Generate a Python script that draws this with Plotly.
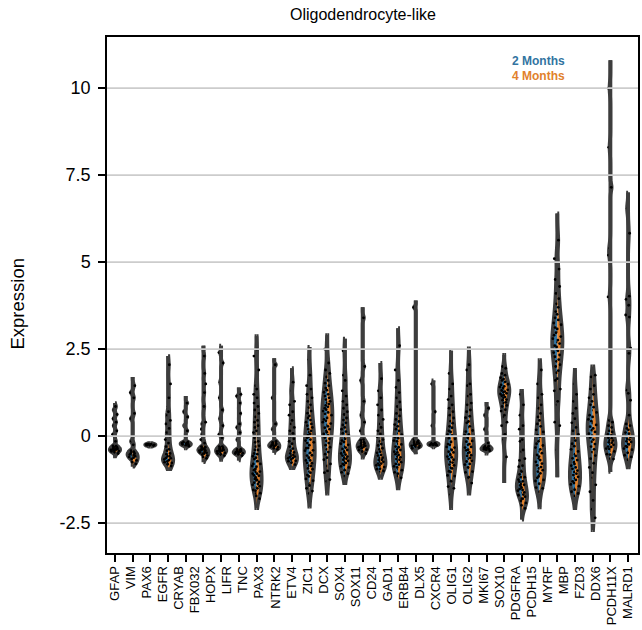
import numpy as np
import plotly.graph_objects as go

# ---------------- data ----------------
gene_labels = ["GFAP", "VIM", "PAX6", "EGFR", "CRYAB", "FBX032", "HOPX", "LIFR", "TNC",
               "PAX3", "NTRK2", "ETV4", "ZIC1", "DCX", "SOX4", "SOX11", "CD24", "GAD1",
               "ERBB4", "DLX5", "CXCR4", "OLIG1", "OLIG2", "MKI67", "SOX10", "PDGFRA",
               "PCDH15", "MYRF", "MBP", "FZD3", "DDX6", "PCDH11X", "MALRD1"]

y_tick_vals = [-2.5, 0, 2.5, 5, 7.5, 10]
y_tick_text = ["-2.5", "0", "2.5", "5", "7.5", "10"]

# expression samples per violin position, 2 Months
expr_2m = [
    [0.75, 0.5, 0.3, 0.05, -0.28, -0.31, -0.34, -0.36, -0.38, -0.4, -0.42, -0.44, -0.47],
    [1.25, 0.5, -0.15, -0.42, -0.46, -0.5, -0.53, -0.56, -0.6, -0.65],
    [-0.23, -0.24, -0.25, -0.26, -0.27],
    [0.6, 0.35, 0.1, -0.1, -0.3, -0.42, -0.52, -0.58, -0.63, -0.67, -0.71, -0.75, -0.8],
    [0.7, 0.3, -0.17, -0.2, -0.22, -0.24, -0.27],
    [0.35, 0.2, 0.05, -0.1, -0.3, -0.33, -0.36, -0.38, -0.4, -0.42, -0.44, -0.47, -0.5],
    [2.4, 1.55, 1.1, 0.5, 0.05, -0.3, -0.34, -0.37, -0.4, -0.42, -0.44, -0.47, -0.5, -0.54],
    [1.15, 0.25, -0.1, -0.38, -0.41, -0.44, -0.46, -0.48, -0.5, -0.54],
    [2.3, 1.45, 1.2, 0.95, 0.75, 0.55, 0.4, 0.25, 0.1, -0.05, -0.18, -0.3, -0.4, -0.5, -0.58,
     -0.66, -0.73, -0.8, -0.86, -0.92, -0.98, -1.03, -1.08, -1.13, -1.18, -1.23, -1.28, -1.34,
     -1.4, -1.47, -1.55, -1.65],
    [1.1, 0.2, -0.18, -0.21, -0.24, -0.26, -0.28, -0.3, -0.33],
    [1.3, 0.9, 0.6, 0.35, 0.15, 0.0, -0.15, -0.3, -0.42, -0.5, -0.56, -0.6, -0.64, -0.68, -0.72, -0.77],
    [2.2, 1.45, 1.2, 1.0, 0.82, 0.66, 0.52, 0.4, 0.3, 0.2, 0.11, 0.03, -0.05, -0.13, -0.2, -0.28,
     -0.35, -0.42, -0.49, -0.56, -0.63, -0.7, -0.77, -0.85, -0.93, -1.02, -1.12, -1.23, -1.36,
     -1.5, -1.65],
    [2.5, 1.9, 1.7, 1.52, 1.38, 1.26, 1.15, 1.05, 0.96, 0.88, 0.8, 0.72, 0.64, 0.56, 0.48, 0.4,
     0.32, 0.24, 0.15, 0.06, -0.04, -0.14, -0.26, -0.38, -0.52, -0.68, -0.86, -1.05, -1.3],
    [2.45, 1.75, 1.3, 1.0, 0.8, 0.62, 0.46, 0.32, 0.2, 0.08, -0.03, -0.13, -0.22, -0.3, -0.37,
     -0.44, -0.5, -0.56, -0.62, -0.68, -0.74, -0.8, -0.87, -0.95, -1.04, -1.15],
    [1.6, 0.6, 0.15, -0.12, -0.18, -0.22, -0.26, -0.29, -0.32, -0.36, -0.4, -0.45],
    [1.3, 0.9, 0.6, 0.35, 0.15, -0.02, -0.15, -0.27, -0.38, -0.48, -0.56, -0.63, -0.69, -0.74,
     -0.79, -0.84, -0.89, -0.95, -1.02],
    [1.9, 1.4, 1.1, 0.85, 0.65, 0.48, 0.33, 0.2, 0.08, -0.03, -0.13, -0.22, -0.3, -0.38, -0.45,
     -0.52, -0.59, -0.66, -0.73, -0.8, -0.87, -0.95, -1.04, -1.15],
    [3.7, -0.1, -0.15, -0.19, -0.22, -0.25, -0.28, -0.31, -0.35, -0.4],
    [1.5, 0.3, -0.2, -0.21, -0.22, -0.23, -0.24, -0.25, -0.26],
    [1.8, 1.35, 1.05, 0.8, 0.6, 0.43, 0.28, 0.15, 0.04, -0.06, -0.15, -0.23, -0.31, -0.38, -0.45,
     -0.52, -0.59, -0.66, -0.74, -0.82, -0.91, -1.01, -1.13, -1.28, -1.45, -1.68],
    [1.9, 1.45, 1.15, 0.9, 0.7, 0.53, 0.38, 0.25, 0.13, 0.03, -0.07, -0.16, -0.25, -0.33, -0.41,
     -0.49, -0.57, -0.65, -0.73, -0.82, -0.92, -1.04, -1.2],
    [0.6, 0.2, -0.28, -0.31, -0.34, -0.36, -0.38, -0.4],
    [2.0, 1.8, 1.68, 1.6, 1.53, 1.47, 1.41, 1.36, 1.31, 1.26, 1.21, 1.16, 1.1, 1.03, 0.95, 0.85,
     0.72, 0.55, 0.3, -0.1],
    [1.2, 0.6, 0.2, -0.15, -0.45, -0.7, -0.88, -1.0, -1.1, -1.18, -1.25, -1.31, -1.37, -1.42,
     -1.47, -1.52, -1.57, -1.63, -1.7, -1.8],
    [1.5, 1.1, 0.8, 0.55, 0.35, 0.18, 0.03, -0.1, -0.22, -0.33, -0.44, -0.54, -0.64, -0.74, -0.84,
     -0.93, -1.02, -1.11, -1.2, -1.29, -1.38, -1.48, -1.6],
    [5.1, 4.5, 4.1, 3.8, 3.58, 3.4, 3.25, 3.12, 3.0, 2.9, 2.8, 2.7, 2.6, 2.5, 2.4, 2.28, 2.15,
     2.0, 1.82, 1.6, 1.3, 0.9, 0.4, -0.4],
    [1.5, 1.0, 0.65, 0.38, 0.15, -0.05, -0.22, -0.38, -0.52, -0.64, -0.75, -0.85, -0.94, -1.03,
     -1.12, -1.21, -1.3, -1.39, -1.49, -1.6, -1.72],
    [1.7, 1.35, 1.1, 0.9, 0.74, 0.6, 0.48, 0.37, 0.27, 0.17, 0.07, -0.04, -0.16, -0.3, -0.46,
     -0.65, -0.9, -1.2, -1.6, -2.1],
    [10.0, 8.3, 5.4, 5.2, 4.0, 0.45, 0.3, 0.15, 0.05, -0.05, -0.12, -0.18, -0.24, -0.3, -0.36,
     -0.43, -0.52, -0.65],
    [6.55, 3.93, 3.48, 1.32, 0.35, 0.22, 0.1, 0.0, -0.08, -0.15, -0.22, -0.29, -0.36, -0.44,
     -0.55, -0.68],
]

# expression samples per violin position, 4 Months
expr_4m = [
    [0.85, 0.62, 0.4, 0.15, -0.15, -0.29, -0.32, -0.35, -0.37, -0.39, -0.41, -0.43, -0.46, -0.5],
    [1.45, 1.1, 0.65, -0.25, -0.45, -0.5, -0.54, -0.58, -0.62, -0.66, -0.7, -0.75, -0.8],
    [-0.23, -0.245, -0.25, -0.255, -0.27],
    [2.05, 1.5, 1.1, 0.7, 0.45, 0.22, 0.0, -0.2, -0.38, -0.5, -0.58, -0.64, -0.69, -0.73, -0.77,
     -0.81, -0.86],
    [0.95, 0.55, 0.15, -0.17, -0.2, -0.22, -0.24, -0.26, -0.29],
    [2.3, 1.8, 1.5, 1.25, 0.85, 0.4, -0.2, -0.32, -0.36, -0.39, -0.42, -0.45, -0.48, -0.5, -0.53,
     -0.56, -0.6, -0.64],
    [2.1, 0.75, 0.3, -0.05, -0.3, -0.34, -0.37, -0.4, -0.42, -0.45, -0.48, -0.52, -0.56],
    [1.2, 0.95, 0.65, 0.35, 0.1, -0.38, -0.41, -0.43, -0.45, -0.47, -0.49, -0.52, -0.56],
    [2.5, 1.9, 1.35, 1.1, 0.85, 0.65, 0.45, 0.3, 0.15, 0.0, -0.15, -0.28, -0.4, -0.52, -0.62,
     -0.72, -0.8, -0.88, -0.95, -1.02, -1.08, -1.14, -1.2, -1.26, -1.32, -1.38, -1.44, -1.5,
     -1.57, -1.64, -1.72, -1.8],
    [2.05, 0.35, -0.15, -0.2, -0.23, -0.26, -0.29, -0.32, -0.35, -0.38],
    [1.55, 1.0, 0.7, 0.45, 0.25, 0.08, -0.08, -0.22, -0.36, -0.47, -0.54, -0.59, -0.63, -0.67,
     -0.71, -0.76, -0.82],
    [1.75, 1.35, 1.1, 0.9, 0.72, 0.58, 0.46, 0.35, 0.25, 0.15, 0.06, -0.02, -0.1, -0.18, -0.26,
     -0.34, -0.41, -0.48, -0.55, -0.62, -0.7, -0.78, -0.86, -0.95, -1.05, -1.16, -1.28, -1.42,
     -1.58],
    [2.1, 1.8, 1.6, 1.45, 1.32, 1.2, 1.1, 1.0, 0.92, 0.84, 0.76, 0.68, 0.6, 0.52, 0.44, 0.36,
     0.28, 0.2, 0.11, 0.02, -0.08, -0.2, -0.32, -0.46, -0.62, -0.8, -1.0, -1.25],
    [1.6, 1.15, 0.9, 0.7, 0.52, 0.38, 0.25, 0.13, 0.02, -0.08, -0.17, -0.25, -0.33, -0.4, -0.47,
     -0.53, -0.59, -0.65, -0.71, -0.77, -0.83, -0.9, -0.98, -1.08],
    [3.4, 2.0, 1.0, 0.4, -0.1, -0.17, -0.21, -0.25, -0.28, -0.31, -0.35, -0.39, -0.44, -0.5],
    [1.65, 1.1, 0.75, 0.48, 0.25, 0.06, -0.1, -0.23, -0.35, -0.45, -0.54, -0.62, -0.68, -0.74,
     -0.79, -0.84, -0.89, -0.94, -1.0],
    [2.6, 1.6, 1.25, 0.98, 0.76, 0.58, 0.42, 0.28, 0.15, 0.04, -0.06, -0.15, -0.24, -0.32, -0.4,
     -0.47, -0.54, -0.61, -0.68, -0.75, -0.82, -0.9, -0.98, -1.08, -1.2],
    [-0.14, -0.18, -0.21, -0.24, -0.26, -0.28, -0.3, -0.33],
    [0.7, -0.2, -0.215, -0.225, -0.23, -0.24, -0.25, -0.26],
    [1.5, 1.15, 0.9, 0.7, 0.52, 0.37, 0.24, 0.12, 0.02, -0.08, -0.17, -0.25, -0.33, -0.4, -0.47,
     -0.54, -0.61, -0.68, -0.76, -0.84, -0.93, -1.03, -1.15, -1.3, -1.5],
    [2.05, 1.5, 1.2, 0.95, 0.75, 0.57, 0.42, 0.28, 0.16, 0.05, -0.05, -0.14, -0.23, -0.31, -0.39,
     -0.47, -0.55, -0.63, -0.71, -0.8, -0.9, -1.02, -1.18, -1.35],
    [0.8, -0.2, -0.29, -0.32, -0.35, -0.37, -0.39, -0.42],
    [1.95, 1.75, 1.64, 1.56, 1.49, 1.43, 1.38, 1.33, 1.28, 1.23, 1.18, 1.12, 1.05, 0.97, 0.88,
     0.76, 0.6, 0.4, 0.05, -0.6],
    [0.9, 0.3, -0.1, -0.4, -0.65, -0.85, -1.02, -1.18, -1.3, -1.4, -1.48, -1.55, -1.62, -1.68,
     -1.74, -1.8, -1.86, -1.92, -1.99, -2.08],
    [1.9, 1.2, 0.9, 0.65, 0.45, 0.28, 0.12, -0.02, -0.15, -0.27, -0.38, -0.49, -0.59, -0.69, -0.79,
     -0.89, -0.98, -1.07, -1.16, -1.26, -1.37, -1.5],
    [5.63, 4.8, 4.3, 3.95, 3.7, 3.5, 3.34, 3.2, 3.08, 2.97, 2.86, 2.76, 2.66, 2.56, 2.45, 2.33,
     2.2, 2.05, 1.88, 1.65, 1.35, 1.0, 0.3],
    [1.2, 0.8, 0.5, 0.25, 0.05, -0.13, -0.29, -0.44, -0.57, -0.69, -0.8, -0.9, -0.99, -1.08,
     -1.17, -1.26, -1.35, -1.44, -1.54, -1.65],
    [1.75, 1.45, 1.2, 1.0, 0.83, 0.68, 0.55, 0.43, 0.32, 0.22, 0.12, 0.01, -0.1, -0.23, -0.38,
     -0.56, -0.78, -1.05, -1.4, -1.85, -2.35],
    [7.15, 0.4, 0.25, 0.12, 0.02, -0.06, -0.13, -0.19, -0.25, -0.31, -0.37, -0.44, -0.53, -0.66],
    [5.83, 4.02, 3.76, 3.42, 2.53, 2.38, 1.23, 1.03, 0.6, 0.3, 0.18, 0.07, -0.02, -0.1, -0.17,
     -0.24, -0.31, -0.39, -0.48, -0.6],
]

# extent of each violin (bottom and top of the drawn outline)
tail_low = [-0.58, -0.88, -0.3, -0.95, -0.35, -0.75, -0.68, -0.7, -2.07, -0.48,
            -0.92, -2.03, -1.65, -1.35, -0.62, -1.2, -1.5, -0.52, -0.32, -2.07,
            -1.65, -0.5, -1.35, -2.4, -2.05, -1.18, -2.07, -2.7, -1.03, -0.9]
tail_high = [0.95, 1.7, -0.2, 2.3, 1.15, 2.6, 2.6, 1.4, 2.87, 2.24,
             1.95, 2.56, 2.9, 2.8, 3.7, 2.1, 3.1, 3.9, 1.6, 2.45,
             2.52, 0.98, 2.33, 1.3, 2.18, 6.4, 1.9, 2.0, 10.8, 7.0]

# ---------------- styling ----------------
BLUE = "#3274a1"
ORANGE = "#e1812c"
OUTLINE = "#3d3d3d"
GRID = "#cccccc"
FONT = "Liberation Sans, Arial, Helvetica, sans-serif"


def kde_bandwidth(vals):
    a = np.asarray(vals, dtype=float)
    mad = np.median(np.abs(a - np.median(a))) * 1.4826
    return float(np.clip(0.3 * mad, 0.03, 0.25))


n_pos = len(expr_2m)
fig = go.Figure()
for i in range(n_pos):
    for vals, side, color, name, ppos in (
        (expr_2m[i], "negative", BLUE, "2 Months", -0.3),
        (expr_4m[i], "positive", ORANGE, "4 Months", 0.3),
    ):
        fig.add_trace(go.Violin(
            x=[i] * len(vals), y=vals, name=name, side=side,
            width=0.58, scalemode="width",
            fillcolor=color, line=dict(color=OUTLINE, width=3.8),
            points="all", pointpos=ppos, jitter=0.6,
            marker=dict(color="black", size=2.8, line=dict(width=0)),
            spanmode="manual", span=[tail_low[i], tail_high[i]],
            bandwidth=kde_bandwidth(vals),
            box=dict(visible=False), meanline=dict(visible=False),
            showlegend=False, hoverinfo="skip",
        ))

x_range = [-0.45, n_pos - 1 + 0.56]
label_pos = list(np.linspace(0, n_pos - 1, len(gene_labels)))

# invisible carrier trace so the label axis is drawn
fig.add_trace(go.Scatter(x=label_pos, y=[None] * len(label_pos), xaxis="x2", yaxis="y",
                         mode="markers", showlegend=False, hoverinfo="skip"))

# horizontal grid lines drawn above the violins, as in the reference
grid_shapes = [dict(type="line", xref="paper", yref="y", x0=0, x1=1, y0=v, y1=v,
                    line=dict(color=GRID, width=1.8), layer="above")
               for v in y_tick_vals]

fig.update_layout(
    width=642, height=630,
    margin=dict(l=107, r=4, t=37, b=77, autoexpand=False),
    paper_bgcolor="white", plot_bgcolor="white",
    violinmode="overlay", violingap=0, violingroupgap=0,
    font=dict(family=FONT, color="black"),
    shapes=grid_shapes,
    xaxis=dict(
        range=x_range, tickvals=list(range(n_pos)), showticklabels=False,
        ticks="outside", ticklen=7, tickwidth=1.5, tickcolor="black",
        showline=True, linecolor="black", linewidth=1.5, mirror=True,
        showgrid=False, zeroline=False,
    ),
    xaxis2=dict(
        overlaying="x", anchor="y", side="bottom", range=x_range,
        tickvals=label_pos, ticktext=gene_labels,
        tickangle=-90, tickfont=dict(size=13, family=FONT, color="black"),
        ticks="outside", ticklen=7, tickcolor="rgba(0,0,0,0)",
        showline=False, showgrid=False, zeroline=False,
    ),
    yaxis=dict(
        range=[-3.36, 11.47], tickvals=y_tick_vals, ticktext=y_tick_text,
        tickfont=dict(size=18, family=FONT, color="black"),
        ticks="outside", ticklen=7, tickwidth=1.5, tickcolor="black", ticklabelstandoff=4,
        showline=True, linecolor="black", linewidth=1.5, mirror=True,
        showgrid=False, zeroline=False,
    ),
    annotations=[
        dict(text="Oligodendrocyte-like", xref="paper", yref="paper", x=0.482, y=1.043,
             xanchor="center", yanchor="middle",
             showarrow=False, font=dict(size=16, family=FONT, color="black")),
        dict(text="Expression", xref="paper", yref="paper", x=-0.169, y=0.484,
             xanchor="center", yanchor="middle",
             textangle=-90, showarrow=False, font=dict(size=18.5, family=FONT, color="black")),
        dict(text="<b>2 Months</b>", xref="paper", yref="paper", x=0.813, y=0.953,
             xanchor="center", yanchor="middle",
             showarrow=False, font=dict(size=12, family=FONT, color=BLUE)),
        dict(text="<b>4 Months</b>", xref="paper", yref="paper", x=0.813, y=0.924,
             xanchor="center", yanchor="middle",
             showarrow=False, font=dict(size=12, family=FONT, color=ORANGE)),
    ],
)

fig.write_html("out.html", config={"displayModeBar": False},
               post_script="document.body.style.margin='0';")
